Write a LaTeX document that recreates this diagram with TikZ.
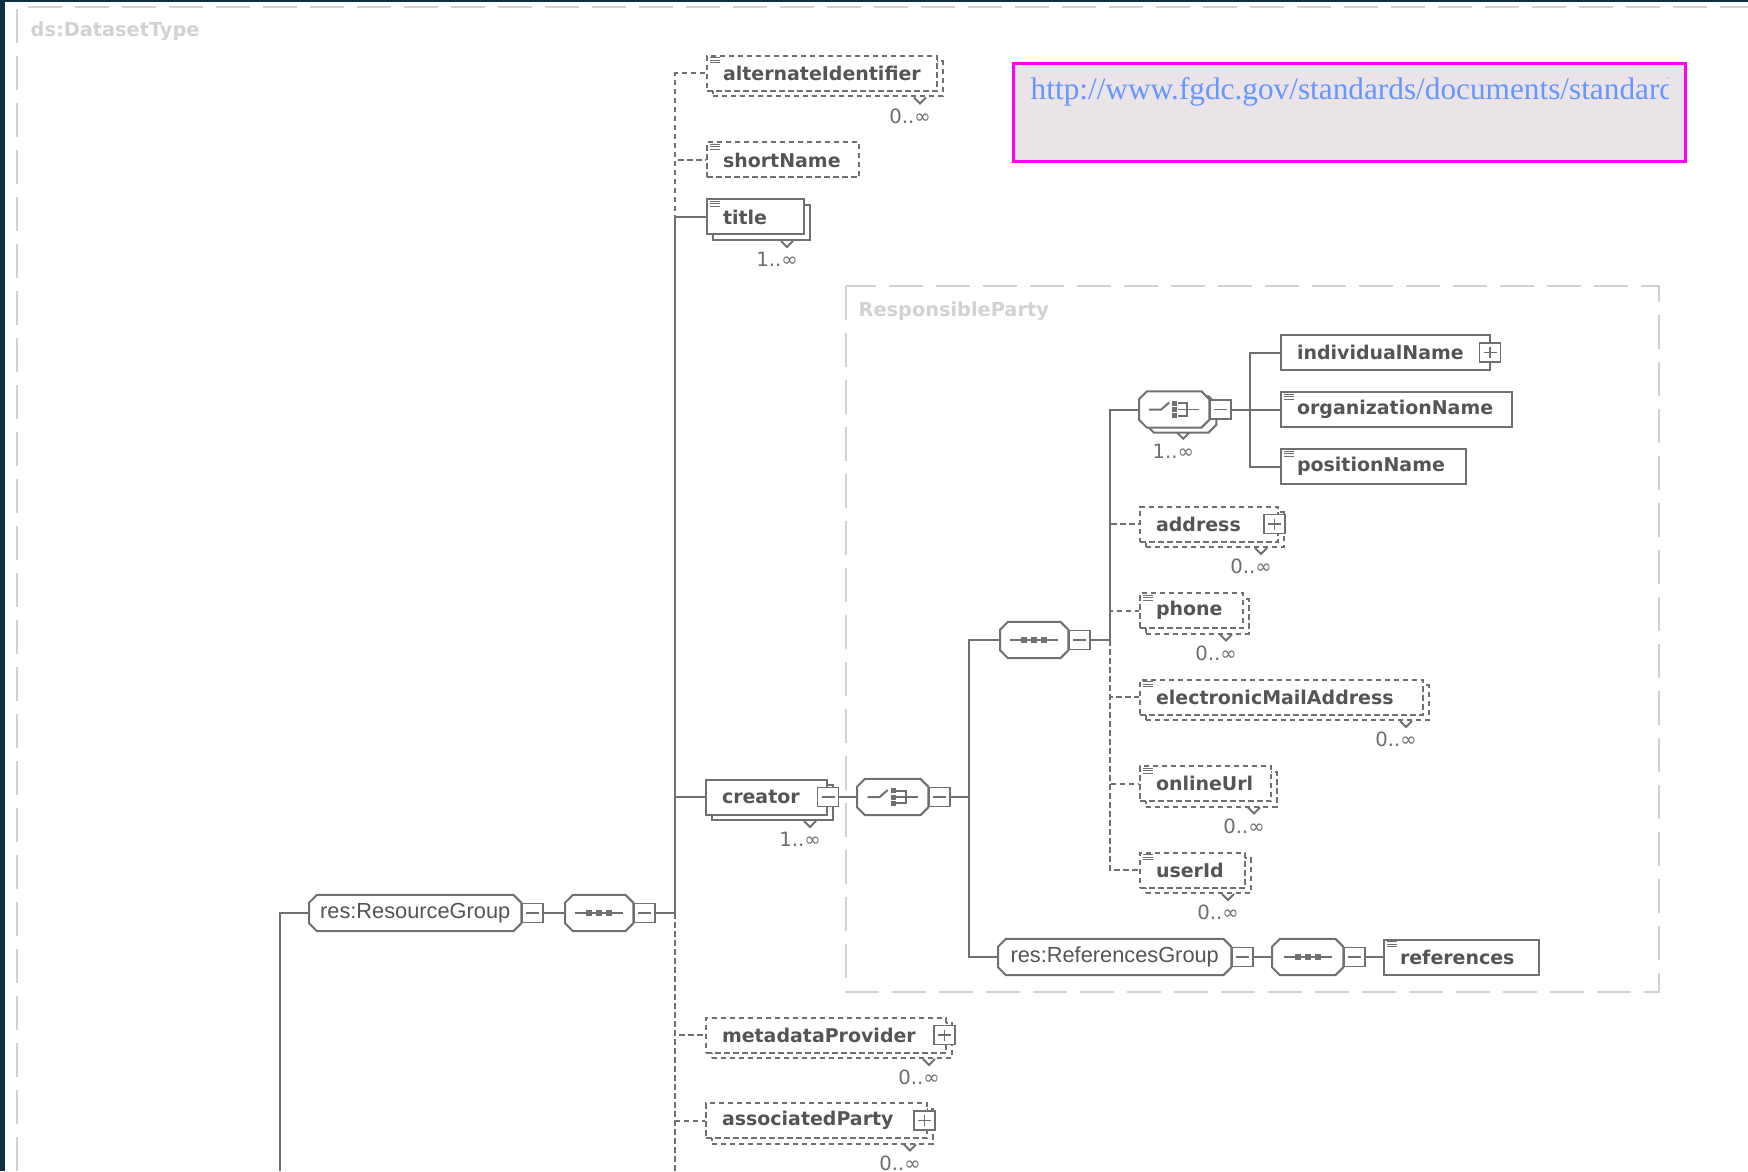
\documentclass[tikz,border=0pt]{standalone}
\usepackage{fontspec}
\usetikzlibrary{shadows}

\newfontfamily\elfont{DejaVu Sans}
\newfontfamily\grpfont{Liberation Sans}
\newfontfamily\urlfont{Liberation Serif}

\definecolor{linegray}{RGB}{112,112,112}
\definecolor{textgray}{RGB}{85,85,85}
\definecolor{ghost}{RGB}{210,210,210}
\definecolor{notefill}{RGB}{234,228,232}
\definecolor{notepink}{RGB}{255,0,255}
\definecolor{urlblue}{RGB}{102,150,255}
\definecolor{darkbg}{RGB}{14,48,68}

\begin{document}
\begin{tikzpicture}[x=0.1mm, y=-0.1mm,
    conn/.style={draw=linegray, line width=0.2mm},
    optconn/.style={conn, dash pattern=on 0.55mm off 0.35mm},
    ghostline/.style={draw=ghost, line width=0.12mm, dash pattern=on 3.4mm off 1.3mm},
    ghostlbl/.style={anchor=west, inner sep=0pt, text=ghost, font=\elfont\bfseries\fontsize{5.5pt}{6.5pt}\selectfont},
    elem/.style={draw=linegray, line width=0.2mm, fill=white, text=textgray, anchor=west,
      font=\elfont\bfseries\fontsize{5.4pt}{6.5pt}\selectfont, text width=#1, align=left,
      inner xsep=1.6mm, inner ysep=0pt, minimum height=3.5mm,
      execute at begin node={\hyphenpenalty=10000}},
    optelem/.style={elem=#1, dash pattern=on 0.55mm off 0.35mm},
    stack/.style={copy shadow={shadow xshift=0.55mm, shadow yshift=-0.55mm, draw=linegray, fill=white, solid}},
    optstack/.style={copy shadow={shadow xshift=0.55mm, shadow yshift=-0.55mm, draw=linegray, fill=white, dash pattern=on 0.55mm off 0.35mm}},
    docicon/.style={path picture={
      \foreach \k in {0.2mm,0.45mm,0.7mm}
        \draw[linegray, line width=0.1mm, solid] ([shift={(0.3mm,-\k)}]path picture bounding box.north west) -- ++(1.0mm,0mm);}},
    % octagon of groups and compositors
    octo/.style={rectangle, draw=none, fill=none, anchor=west, inner sep=0pt, minimum height=3.5mm,
      text=textgray, font=\grpfont\fontsize{6.2pt}{7pt}\selectfont,
      append after command={\pgfextra{\filldraw[draw=linegray, fill=white, line width=0.2mm]
        ([xshift=0.8mm]\tikzlastnode.north west) -- ([xshift=-0.8mm]\tikzlastnode.north east)
        -- ([yshift=-0.8mm]\tikzlastnode.north east) -- ([yshift=0.8mm]\tikzlastnode.south east)
        -- ([xshift=-0.8mm]\tikzlastnode.south east) -- ([xshift=0.8mm]\tikzlastnode.south west)
        -- ([yshift=0.8mm]\tikzlastnode.south west) -- ([yshift=-0.8mm]\tikzlastnode.north west) -- cycle;}}},
    seqicon/.style={append after command={\pgfextra{
      \draw[linegray, line width=0.2mm] ([xshift=-2.4mm]\tikzlastnode.center) -- ([xshift=2.4mm]\tikzlastnode.center);
      \foreach \d in {-1mm,0mm,1mm}
        \fill[linegray] ([xshift=\d]\tikzlastnode.center) +(-0.28mm,-0.28mm) rectangle +(0.28mm,0.28mm);}}},
    choiceicon/.style={append after command={\pgfextra{
      \draw[linegray, line width=0.2mm] ([xshift=-2.5mm]\tikzlastnode.center) -- ([xshift=-1.3mm]\tikzlastnode.center) -- ([shift={(-0.5mm,0.7mm)}]\tikzlastnode.center);
      \foreach \d in {-0.62mm,0mm,0.62mm}
        \fill[linegray] ([shift={(0.05mm,\d)}]\tikzlastnode.center) +(-0.24mm,-0.25mm) rectangle +(0.24mm,0.25mm);
      \draw[linegray, line width=0.17mm] ([shift={(0.35mm,0.62mm)}]\tikzlastnode.center) -- ++(0.95mm,0mm) -- ++(0mm,-1.24mm) -- ++(-0.95mm,0mm)
        ([xshift=0.35mm]\tikzlastnode.center) -- ([xshift=2.5mm]\tikzlastnode.center);}}},
    colbox/.style={draw=linegray, line width=0.15mm, fill=white, solid, inner sep=0pt, minimum width=2.1mm, minimum height=1.9mm,
      path picture={\draw[linegray, line width=0.15mm] ([xshift=0.4mm]path picture bounding box.west) -- ([xshift=-0.4mm]path picture bounding box.east);}},
    expbox/.style={colbox, path picture={\draw[linegray, line width=0.15mm]
      ([xshift=0.4mm]path picture bounding box.west) -- ([xshift=-0.4mm]path picture bounding box.east)
      ([yshift=0.4mm]path picture bounding box.south) -- ([yshift=-0.4mm]path picture bounding box.north);}},
    mult/.style={inner sep=0pt, text=textgray!85, font=\elfont\fontsize{5.6pt}{6pt}\selectfont}]

  \useasboundingbox (0,0) rectangle (1748,1171);
  \fill[white] (0,0) rectangle (1748,1171);
  % dark screen edges
  \fill[darkbg] (0,0) rectangle (5,1171);
  \fill[darkbg] (0,0) rectangle (1748,2);

  % type frames
  \draw[ghostline] (17,1171) -- (17,7) -- (1748,7);
  \node[ghostlbl] (dstype) at (30,31) {ds:DatasetType};
  \draw[ghostline] (846,286) rectangle (1659,992);
  \node[ghostlbl] (rptype) at (858,311) {ResponsibleParty};

  % note with link
  \node[draw=notepink, line width=0.3mm, fill=notefill, anchor=north west, inner sep=0pt,
    minimum width=67.2mm, minimum height=9.8mm] (note) at (1012,62) {};
  \begin{scope}
    \clip (note.south west) rectangle ([xshift=-1.9mm]note.north east);
    \node[anchor=base west, inner sep=0pt, text=urlblue, font=\urlfont\fontsize{8.9pt}{10pt}\selectfont] (url) at (1030,100)
      {http://www.fgdc.gov/standards/documents/standard};
  \end{scope}

  % resource group and its sequence
  \node[octo, minimum width=21.1mm] (resgrp) at (309,913) {res:ResourceGroup};
  \node[colbox, anchor=west] (resgrp-c) at (resgrp.east) {};
  \node[octo, seqicon, minimum width=6.7mm] (seqA) at (565,913) {};
  \node[colbox, anchor=west] (seqA-c) at (seqA.east) {};

  % children of the sequence
  \node[optelem=19.8mm, optstack, docicon] (altid) at (706,73.5) {alternateIdentifier};
  \node[optelem=12.0mm, docicon] (shortname) at (706,160) {shortName};
  \node[elem=6.5mm, stack, docicon] (title) at (706,217) {title};
  \node[elem=8.9mm, stack] (creator) at (705,797) {creator};
  \node[colbox] (creator-c) at (creator.east) {};
  \node[optelem=20.8mm, optstack] (metaprov) at (705,1035) {metadataProvider};
  \node[expbox] (metaprov-x) at ([xshift=-0.25mm]metaprov.east) {};
  \node[optelem=18.9mm, optstack] (assocparty) at (705,1120.5) {associatedParty};
  \node[expbox] (assocparty-x) at ([xshift=-0.35mm]assocparty.east) {};

  % responsible party content
  \node[octo, choiceicon, minimum width=7mm] (choiceA) at (857,797) {};
  \node[colbox, anchor=west] (choiceA-c) at (choiceA.east) {};
  \node[octo, seqicon, minimum width=6.7mm] (seqB) at (1000,640) {};
  \node[colbox, anchor=west] (seqB-c) at (seqB.east) {};
  \node[octo, minimum width=6.9mm] (choiceB-back) at (1146,414.5) {};
  \node[octo, choiceicon, minimum width=6.9mm] (choiceB) at (1139,409.5) {};
  \node[colbox, anchor=west] (choiceB-c) at (choiceB.east) {};

  \node[elem=17.7mm] (indname) at (1280,352.5) {individualName};
  \node[expbox] (indname-x) at ([xshift=-0.1mm]indname.east) {};
  \node[elem=19.9mm, docicon] (orgname) at (1280,409.5) {organizationName};
  \node[elem=15.3mm, docicon] (posname) at (1280,466.5) {positionName};

  \node[optelem=10.6mm, optstack] (address) at (1139,524) {address};
  \node[expbox] (address-x) at ([xshift=-0.45mm]address.east) {};
  \node[optelem=7.1mm, optstack, docicon] (phone) at (1139,610.5) {phone};
  \node[optelem=25.1mm, optstack, docicon] (email) at (1139,697) {electronicMailAddress};
  \node[optelem=9.9mm, optstack, docicon] (onlineurl) at (1139,783.5) {onlineUrl};
  \node[optelem=7.3mm, optstack, docicon] (userid) at (1139,870) {userId};

  \node[octo, minimum width=23.2mm] (refgrp) at (998,957) {res:ReferencesGroup};
  \node[colbox, anchor=west] (refgrp-c) at (refgrp.east) {};
  \node[octo, seqicon, minimum width=7mm] (seqC) at (1272,957) {};
  \node[colbox, anchor=west] (seqC-c) at (seqC.east) {};
  \node[elem=12.3mm, docicon] (references) at (1383,957) {references};

  % occurrence marks
  \foreach \n/\m in {altid/0, title/1, creator/1, metaprov/0, assocparty/0,
      address/0, phone/0, email/0, onlineurl/0, userid/0}{
    \draw[conn] ([shift={(-2.4mm,-0.55mm)}]\n.south east) -- ++(0.6mm,-0.6mm) -- ++(0.6mm,0.6mm);
    \node[mult] (\n-occ) at ([shift={(-2.8mm,-2.4mm)}]\n.south east) {\m..∞};
  }
  \draw[conn] ([shift={(-0.4mm,0mm)}]choiceB-back.south) -- ++(0.6mm,-0.6mm) -- ++(0.6mm,0.6mm);
  \node[mult] (choiceB-occ) at ([shift={(-0.8mm,-1.85mm)}]choiceB-back.south) {1..∞};

  % connectors
  \coordinate (rgEnd) at (280,1171);
  \coordinate (spineA) at (675,913);
  \coordinate (spineAend) at (675,1171);
  \coordinate (spineB) at (969,797);
  \coordinate (spineC) at (1110,640);
  \coordinate (spineD) at (1250,409.5);

  \draw[conn] (rgEnd) |- (resgrp.west);
  \draw[conn] (resgrp-c.east) -- (seqA.west);
  \draw[conn] (seqA-c.east) -- (spineA);
  \draw[optconn] (spineA) |- (altid.west);
  \draw[optconn] (spineA) |- (shortname.west);
  \draw[optconn] (spineA) |- (metaprov.west);
  \draw[optconn] (spineA) |- (assocparty.west);
  \draw[optconn] (spineA) -- (spineAend);
  \draw[conn] (spineA) |- (title.west);
  \draw[conn] (spineA) |- (creator.west);

  \draw[conn] (creator-c.east) -- (choiceA.west);
  \draw[conn] (choiceA-c.east) -- (spineB);
  \draw[conn] (spineB) |- (seqB.west);
  \draw[conn] (spineB) |- (refgrp.west);

  \draw[conn] (seqB-c.east) -- (spineC);
  \draw[optconn] (spineC) |- (address.west);
  \draw[optconn] (spineC) |- (phone.west);
  \draw[optconn] (spineC) |- (email.west);
  \draw[optconn] (spineC) |- (onlineurl.west);
  \draw[optconn] (spineC) |- (userid.west);
  \draw[conn] (spineC) |- (choiceB.west);

  \draw[conn] (choiceB-c.east) -- (spineD);
  \draw[conn] (spineD) |- (indname.west);
  \draw[conn] (spineD) |- (orgname.west);
  \draw[conn] (spineD) |- (posname.west);

  \draw[conn] (refgrp-c.east) -- (seqC.west);
  \draw[conn] (seqC-c.east) -- (references.west);
\end{tikzpicture}
\end{document}
